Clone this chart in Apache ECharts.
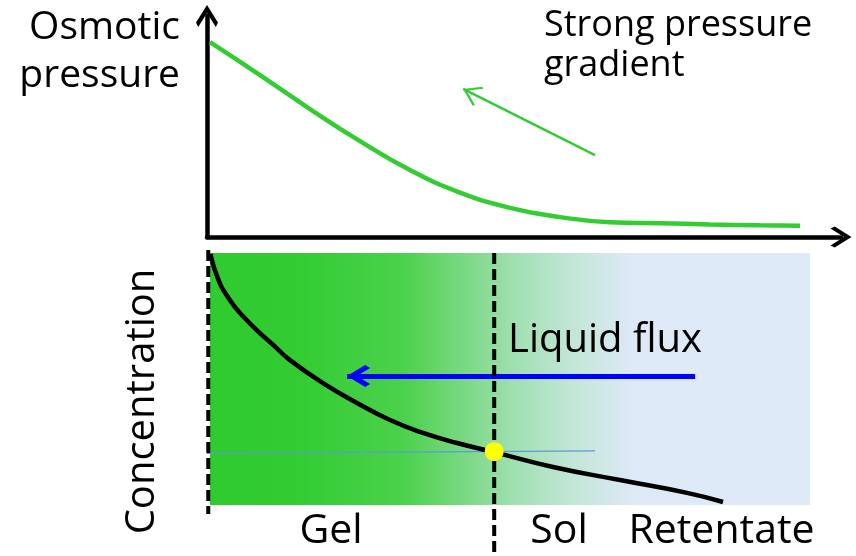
<!DOCTYPE html>
<html>
<head>
<meta charset="utf-8">
<script src="https://cdn.jsdelivr.net/npm/echarts@6/dist/echarts.min.js"></script>
<style>
html,body{margin:0;padding:0;background:#ffffff;}
#chart{width:856px;height:556px;}
</style>
</head>
<body>
<div id="chart"></div>
<script>
// ---- Data (arbitrary distance units 0..100, value units 0..100) ----
const osmoticX = [0.47, 8.36, 16.25, 24.13, 32.02, 39.91, 47.79, 55.68, 63.56, 71.45, 79.34, 87.22, 93.53];
const osmoticY = [88.2, 73.3, 57.9, 43.4, 30.3, 20.1, 13.2, 9.0, 6.7, 6.2, 5.7, 5.3, 5.1];

const concX = [0.55, 0.99, 1.53, 2.05, 2.57, 4.15, 5.21, 7.84, 10.46, 13.09, 18.30, 23.66, 28.86, 34.07, 39.43, 45.27, 54.57, 65.14, 75.71, 81.39];
const concY = [99.6, 95.2, 91.3, 87.9, 85.3, 79.4, 76.2, 69.4, 63.5, 57.5, 48.4, 40.5, 33.7, 28.6, 24.6, 21.0, 15.1, 9.9, 4.8, 1.2];

const gelSolPoint = [45.3, 21.2];
const referenceLevelX = [0, 61.2];
const referenceLevelY = [20.5, 21.5];

const fluxFromTo = [[77.0, 51.2], [22.1, 51.2]];
const gradientArrowFromTo = [[61.2, 37.1], [40.4, 67.0]];

const wallBoundaryX = [0.2, 0.2];
const wallBoundaryY = [101.2, -3.6];
const gelSolBoundaryX = [45.3, 45.3];
const gelSolBoundaryY = [100, -20.2];

const shadedRangeX = [0.47, 95.1];
const shadedRangeY = [0, 100];

const topLabel = ['Osmotic', 'pressure'];
const gradientLabel = ['Strong pressure', 'gradient'];
const yLabelBottom = 'Concentration';
const fluxLabel = 'Liquid flux';
const regionLabels = ['Gel', 'Sol', 'Retentate'];

// ---- Build ----
const zip = (xs, ys) => xs.map((x, i) => [x, ys[i]]);
const FONT = '"Open Sans", "Noto Sans", sans-serif';
const chevronAxis = 'path://M50 0 L100 80 L90 100 L50 36 L10 100 L0 80 Z';
const chevronThin = 'path://M50 0 L100 88 L94 100 L50 22 L6 100 L0 88 Z';
const chevronBold = 'path://M50 0 L100 78 L86 100 L50 42 L14 100 L0 78 Z';

const chart = echarts.init(document.getElementById('chart'), null, {renderer: 'canvas'});

const axisLineStyle = {color: '#000000', width: 4.5};

const option = {
  animation: false,
  backgroundColor: '#ffffff',
  grid: [
    {left: 207, right: 15, top: 16, height: 221},
    {left: 207, right: 15, top: 253, height: 252}
  ],
  xAxis: [
    {gridIndex: 0, type: 'value', min: 0, max: 100,
     axisLine: {show: true, onZero: false, symbol: ['none', chevronAxis], symbolSize: [22, 21], lineStyle: axisLineStyle},
     axisTick: {show: false}, axisLabel: {show: false}, splitLine: {show: false}},
    {gridIndex: 1, type: 'value', min: 0, max: 100, show: false, splitLine: {show: false}}
  ],
  yAxis: [
    {gridIndex: 0, type: 'value', min: 0, max: 100,
     axisLine: {show: true, onZero: false, symbol: ['none', chevronAxis], symbolSize: [23, 22], lineStyle: axisLineStyle},
     axisTick: {show: false}, axisLabel: {show: false}, splitLine: {show: false}},
    {gridIndex: 1, type: 'value', min: 0, max: 100, show: false, splitLine: {show: false}}
  ],
  series: [
    {
      name: 'Osmotic pressure', type: 'line', xAxisIndex: 0, yAxisIndex: 0,
      data: zip(osmoticX, osmoticY), smooth: 0.5, symbol: 'none', z: 3,
      lineStyle: {color: '#33cc33', width: 4.5},
      markLine: {
        silent: true, animation: false,
        symbol: ['none', chevronThin],
        symbolSize: 10,
        label: {show: false},
        lineStyle: {color: '#33cc33', width: 2.5, type: 'solid'},
        emphasis: {disabled: true},
        data: [[
          {coord: gradientArrowFromTo[0], symbol: 'none'},
          {coord: gradientArrowFromTo[1], symbol: chevronThin, symbolSize: [21, 18], symbolOffset: [0, 9]}
        ]]
      }
    },
    {
      name: 'Concentration', type: 'line', xAxisIndex: 1, yAxisIndex: 1,
      data: zip(concX, concY), smooth: 0.5, symbol: 'none', z: 4,
      lineStyle: {color: '#000000', width: 4.5},
      markArea: {
        silent: true, z: 1,
        itemStyle: {
          color: new echarts.graphic.LinearGradient(0, 0, 1, 0, [
            {offset: 0.0, color: '#2fcb2f'},
            {offset: 0.15, color: '#33cc33'},
            {offset: 0.32, color: '#4bd14b'},
            {offset: 0.47, color: '#8fdc9c'},
            {offset: 0.5, color: '#9ddfae'},
            {offset: 0.6, color: '#c1e6d6'},
            {offset: 0.705, color: '#dde9f7'},
            {offset: 1.0, color: '#dfeaf8'}
          ])
        },
        data: [[{coord: [shadedRangeX[0], shadedRangeY[0]]}, {coord: [shadedRangeX[1], shadedRangeY[1]]}]]
      },
      markLine: {
        silent: true, animation: false,
        symbol: ['none', chevronBold],
        symbolSize: 10,
        label: {show: false},
        lineStyle: {color: '#0000ff', width: 5, type: 'solid'},
        emphasis: {disabled: true},
        data: [[
          {coord: fluxFromTo[0], symbol: 'none'},
          {coord: fluxFromTo[1], symbol: chevronBold, symbolSize: [22, 23], symbolOffset: [0, 11.5]}
        ]]
      }
    },
    {
      name: 'Reference level', type: 'line', xAxisIndex: 1, yAxisIndex: 1,
      data: zip(referenceLevelX, referenceLevelY), symbol: 'none', z: 3,
      lineStyle: {color: '#5b9bd5', width: 1.3}
    },
    {
      name: 'Wall', type: 'line', xAxisIndex: 1, yAxisIndex: 1, clip: false,
      data: zip(wallBoundaryX, wallBoundaryY), symbol: 'none', z: 5,
      lineStyle: {color: '#000000', width: 4, type: [11, 5]}
    },
    {
      name: 'Gel/Sol boundary', type: 'line', xAxisIndex: 1, yAxisIndex: 1, clip: false,
      data: zip(gelSolBoundaryX, gelSolBoundaryY), symbol: 'none', z: 5,
      lineStyle: {color: '#000000', width: 4, type: [11, 5]}
    },
    {
      name: 'Gel point', type: 'scatter', xAxisIndex: 1, yAxisIndex: 1,
      data: [gelSolPoint], symbol: 'circle', symbolSize: 19, z: 6,
      itemStyle: {color: '#ffff00', opacity: 1}
    }
  ],
  graphic: [
    {type: 'text', x: 180, y: 28, style: {text: topLabel[0], font: '39px ' + FONT, fill: '#000', align: 'right', verticalAlign: 'middle'}},
    {type: 'text', x: 180, y: 76, style: {text: topLabel[1], font: '39px ' + FONT, fill: '#000', align: 'right', verticalAlign: 'middle'}},
    {type: 'text', x: 544, y: 25.5, style: {text: gradientLabel[0], font: '36px ' + FONT, fill: '#000', align: 'left', verticalAlign: 'middle'}},
    {type: 'text', x: 544, y: 66, style: {text: gradientLabel[1], font: '36px ' + FONT, fill: '#000', align: 'left', verticalAlign: 'middle'}},
    {type: 'text', x: 143, y: 401.5, rotation: Math.PI / 2, style: {text: yLabelBottom, font: '40px ' + FONT, fill: '#000', align: 'center', verticalAlign: 'middle'}},
    {type: 'text', x: 508, y: 341, z: 10, style: {text: fluxLabel, font: '40px ' + FONT, fill: '#000', align: 'left', verticalAlign: 'middle'}},
    {type: 'text', x: 331, y: 531, style: {text: regionLabels[0], font: '41px ' + FONT, fill: '#000', align: 'center', verticalAlign: 'middle'}},
    {type: 'text', x: 559, y: 531, style: {text: regionLabels[1], font: '41px ' + FONT, fill: '#000', align: 'center', verticalAlign: 'middle'}},
    {type: 'text', x: 721.5, y: 531, style: {text: regionLabels[2], font: '41px ' + FONT, fill: '#000', align: 'center', verticalAlign: 'middle'}}
  ]
};
chart.setOption(option);
</script>
</body>
</html>
